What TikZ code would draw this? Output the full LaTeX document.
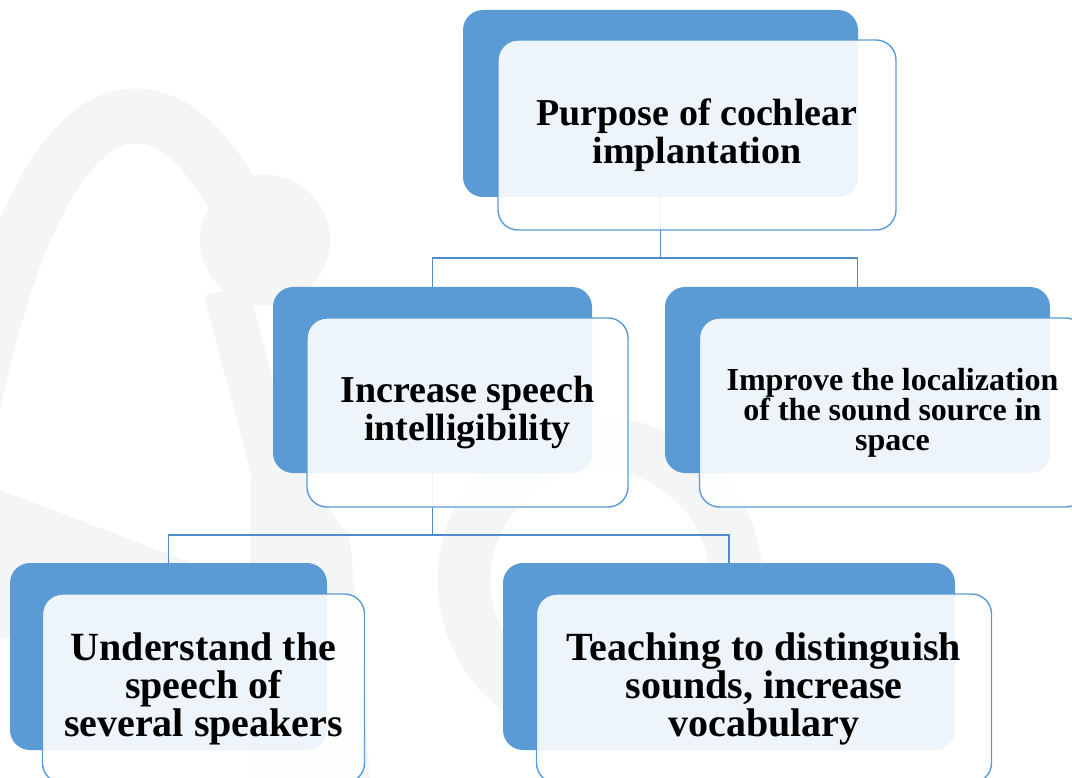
\documentclass[tikz,border=0pt]{standalone}
\usepackage{fontspec}
\setmainfont{Liberation Serif}
\usepackage{tikz}
\usepackage{xcolor}

\definecolor{boxblue}{HTML}{5B9BD5}
\definecolor{linkblue}{HTML}{4F8CC9}
\definecolor{logogray}{HTML}{F4F5F7}

\tikzset{
    backbox/.style={rectangle, rounded corners=20pt, fill=boxblue, draw=none},
    frontbox/.style={rectangle, rounded corners=20pt, draw=boxblue, line width=1.4pt,
        fill=white, fill opacity=0.9, text opacity=1, align=center,
        font=\bfseries\fontsize{38}{38}\selectfont},
    link/.style={draw=linkblue, line width=1.6pt},
    logoband/.style={draw=logogray, fill=none}
}

\begin{document}
\begin{tikzpicture}[x=1pt, y=1pt]
    \useasboundingbox (0,0) rectangle (1072,-778);

    % faint logo in the background
    \draw[logoband, line width=55pt] (-30,-420) .. controls (10,-220) and (70,-116) .. (135,-116) .. controls (190,-116) and (225,-180) .. (250,-225);
    \draw[logoband, line width=45pt] (226,-290) -- (285,-515);
    \fill[logogray] (265,-240) circle (65);
    \draw[logoband, line width=53pt] (600,-580) circle (136);
    \fill[logogray] (0,-490) -- (250,-585) -- (0,-640) -- cycle;
    \fill[logogray] (250,-480) -- (300,-470) -- (350,-538) -- (370,-778) -- (250,-778) -- cycle;

    % blue cards behind
    \node[backbox, minimum width=395, minimum height=187] (purpose) at (660.5,-103.5) {};
    \node[backbox, minimum width=319, minimum height=186] (speech) at (432.5,-380) {};
    \node[backbox, minimum width=385, minimum height=186] (local) at (857.5,-380) {};
    \node[backbox, minimum width=317, minimum height=187] (several) at (168.5,-656.5) {};
    \node[backbox, minimum width=452, minimum height=187] (vocab) at (729,-656.5) {};

    % tree lines
    \coordinate (j1) at (660.5,-258);
    \coordinate (j2) at (432.5,-535);
    \draw[link] (purpose.south) -- (j1) -| (speech.north);
    \draw[link] (j1) -| (local.north);
    \draw[link] (speech.south) -- (j2) -| (several.north);
    \draw[link] (j2) -| (vocab.north);

    % light cards with the text
    \node[frontbox, minimum width=398, minimum height=190] (purpose-t) at (697,-135) {Purpose of cochlear\\implantation};
    \node[frontbox, minimum width=321, minimum height=189] (speech-t) at (467.5,-412.5) {Increase speech\\intelligibility};
    \node[frontbox, minimum width=386, minimum height=189, font=\bfseries\fontsize{32}{30}\selectfont] (local-t) at (892.5,-412.5) {Improve the localization\\of the sound source in\\space};
    \node[frontbox, minimum width=322, minimum height=189, font=\bfseries\fontsize{40}{38}\selectfont] (several-t) at (203.5,-688.5) {Understand the\\speech of\\several speakers};
    \node[frontbox, minimum width=455, minimum height=189, font=\bfseries\fontsize{40}{38}\selectfont] (vocab-t) at (764,-688.5) {Teaching to distinguish\\sounds, increase\\vocabulary};
\end{tikzpicture}
\end{document}
